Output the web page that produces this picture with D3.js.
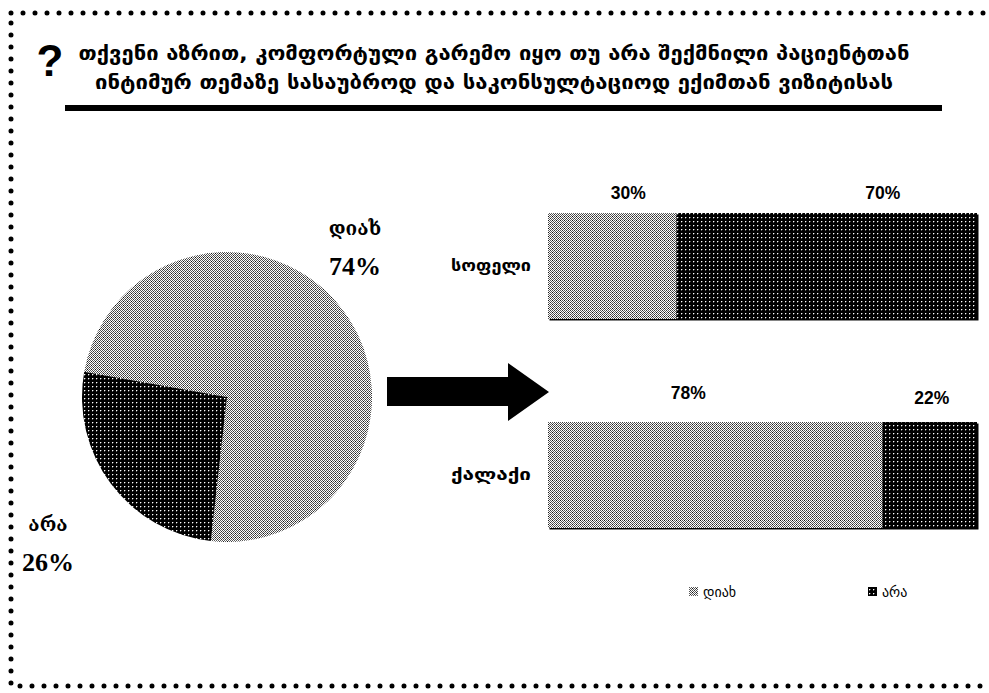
<!DOCTYPE html>
<html>
<head>
<meta charset="utf-8">
<script src="https://cdn.jsdelivr.net/npm/d3@7"></script>
<style>
  html, body { margin: 0; padding: 0; background: #fff; }
  svg { display: block; }
</style>
</head>
<body>
<svg id="chart" width="989" height="693"></svg>
<script>
// ---- data ----
const titleLines = [
  "თქვენი აზრით, კომფორტული გარემო იყო თუ არა შექმნილი პაციენტთან",
  "ინტიმურ თემაზე სასაუბროდ და საკონსულტაციოდ ექიმთან ვიზიტისას"
];
const pieLabels = ["დიახ", "არა"];
const pieValues = [74, 26];
const categories = ["სოფელი", "ქალაქი"];
const seriesNames = ["დიახ", "არა"];
const yesValues = [30, 78];
const noValues = [70, 22];

// ---- layout ----
const svg = d3.select("#chart");
const defs = svg.append("defs");

// light pattern
const pl = defs.append("pattern").attr("id", "pLight").attr("patternUnits", "userSpaceOnUse")
  .attr("width", 4).attr("height", 4);
pl.append("rect").attr("width", 4).attr("height", 4).attr("fill", "#fff");
[[0,0,"#111"],[2,0,"#585858"],[1,1,"#585858"],[3,1,"#585858"],[0,2,"#585858"],[2,2,"#333"],[1,3,"#585858"],[3,3,"#585858"]]
  .forEach(([x,y,c]) => pl.append("rect").attr("x", x).attr("y", y).attr("width", 1).attr("height", 1).attr("fill", c));

// dark pattern
const pd = defs.append("pattern").attr("id", "pDark").attr("patternUnits", "userSpaceOnUse")
  .attr("width", 4).attr("height", 4);
pd.append("rect").attr("width", 4).attr("height", 4).attr("fill", "#000");
pd.append("rect").attr("x", 1).attr("y", 1).attr("width", 1).attr("height", 1).attr("fill", "#fff");
pd.append("rect").attr("x", 2).attr("y", 1).attr("width", 1).attr("height", 1).attr("fill", "#555");
pd.append("rect").attr("x", 1).attr("y", 2).attr("width", 1).attr("height", 1).attr("fill", "#555");

const fills = ["url(#pLight)", "url(#pDark)"];

// dotted border
svg.append("rect")
  .attr("x", 11).attr("y", 13).attr("width", 982).attr("height", 673)
  .attr("fill", "none").attr("stroke", "#000").attr("stroke-width", 5)
  .attr("stroke-linecap", "round").attr("stroke-dasharray", "0 12");

// question mark
svg.append("text").attr("x", 50).attr("y", 76).attr("text-anchor", "middle")
  .attr("font-family", "Liberation Sans, Arial, sans-serif").attr("font-weight", "bold")
  .attr("font-size", 44).text("?");

// title
const titleWidths = [831, 798];
svg.selectAll("text.title").data(titleLines).join("text")
  .attr("class", "title")
  .attr("x", 494).attr("y", (d, i) => 60 + i * 29)
  .attr("text-anchor", "middle")
  .attr("font-family", "DejaVu Sans, sans-serif").attr("font-weight", "bold")
  .attr("font-size", 19)
  .attr("textLength", (d, i) => titleWidths[i]).attr("lengthAdjust", "spacingAndGlyphs")
  .text(d => d);

svg.append("rect").attr("x", 65).attr("y", 105).attr("width", 877).attr("height", 6).attr("fill", "#000");

// ---- pie ----
const cx = 227, cy = 397, R = 145;
const pie = d3.pie().sort(null).startAngle(-80 * Math.PI / 180).endAngle(280 * Math.PI / 180);
const arc = d3.arc().innerRadius(0).outerRadius(R);
const pg = svg.append("g").attr("transform", `translate(${cx},${cy})`);
pg.selectAll("path").data(pie(pieValues)).join("path")
  .attr("d", arc).attr("fill", (d, i) => fills[i]);

// pie labels
const pieLabelPos = [[355, 235, 275], [48, 531, 571]];
pieLabels.forEach((lab, i) => {
  const [x, y1, y2] = pieLabelPos[i];
  svg.append("text").attr("x", x).attr("y", y1).attr("text-anchor", "middle")
    .attr("font-family", "DejaVu Serif, DejaVu Sans, serif").attr("font-weight", "bold")
    .attr("font-size", 19).text(lab);
  svg.append("text").attr("x", x).attr("y", y2).attr("text-anchor", "middle")
    .attr("font-family", "Liberation Serif, Times New Roman, serif").attr("font-weight", "bold")
    .attr("font-size", 26).text(pieValues[i] + "%");
});

// ---- arrow ----
svg.append("path")
  .attr("d", "M387,377 L508,377 L508,363 L549,392 L508,421 L508,406 L387,406 Z")
  .attr("fill", "#000");

// ---- bars ----
const x = d3.scaleLinear().domain([0, 100]).range([548, 977]);
const y = d3.scaleBand().domain(categories).range([213, 528]).paddingInner(0.493).paddingOuter(0);
const stackData = categories.map((c, i) => ({ cat: c, yes: yesValues[i], no: noValues[i] }));
const stack = d3.stack().keys(["yes", "no"])(stackData);

const bg = svg.append("g");
// shadow
bg.selectAll("rect.shadow").data(stackData).join("rect").attr("class", "shadow")
  .attr("x", x(0) + 1.5).attr("y", d => y(d.cat) + 1.5)
  .attr("width", x(100) - x(0)).attr("height", y.bandwidth()).attr("fill", "#000");

stack.forEach((s, si) => {
  bg.selectAll("rect.s" + si).data(s).join("rect").attr("class", "s" + si)
    .attr("x", d => x(d[0])).attr("y", d => y(d.data.cat))
    .attr("width", d => x(d[1]) - x(d[0])).attr("height", y.bandwidth())
    .attr("fill", fills[si]);
});

// value labels
const labelNudge = [[16, -27], [56, 2]];
const labelDy = [[-14, -23], [-14, -18]];
stack.forEach((s, si) => {
  s.forEach((d, ci) => {
    svg.append("text")
      .attr("x", x((d[0] + d[1]) / 2) + labelNudge[si][ci])
      .attr("y", y(d.data.cat) + labelDy[si][ci])
      .attr("text-anchor", "middle")
      .attr("font-family", "Liberation Sans, Arial, sans-serif").attr("font-weight", "bold")
      .attr("font-size", 17.5).text((d[1] - d[0]) + "%");
  });
});

// category labels
const catWidths = [80, 80];
svg.selectAll("text.cat").data(categories).join("text").attr("class", "cat")
  .attr("x", 531).attr("y", d => y(d) + y.bandwidth() / 2 + 5)
  .attr("text-anchor", "end")
  .attr("font-family", "DejaVu Sans, sans-serif").attr("font-weight", "bold")
  .attr("font-size", 16)
  .attr("textLength", (d, i) => catWidths[i]).attr("lengthAdjust", "spacingAndGlyphs")
  .text(d => d);

// legend
const legX = [689, 868];
seriesNames.forEach((n, i) => {
  svg.append("rect").attr("x", legX[i]).attr("y", 587).attr("width", 9).attr("height", 9)
    .attr("fill", fills[i]);
  svg.append("text").attr("x", legX[i] + 14).attr("y", 597)
    .attr("font-family", "DejaVu Sans, sans-serif").attr("font-size", 14).text(n);
});
</script>
</body>
</html>
